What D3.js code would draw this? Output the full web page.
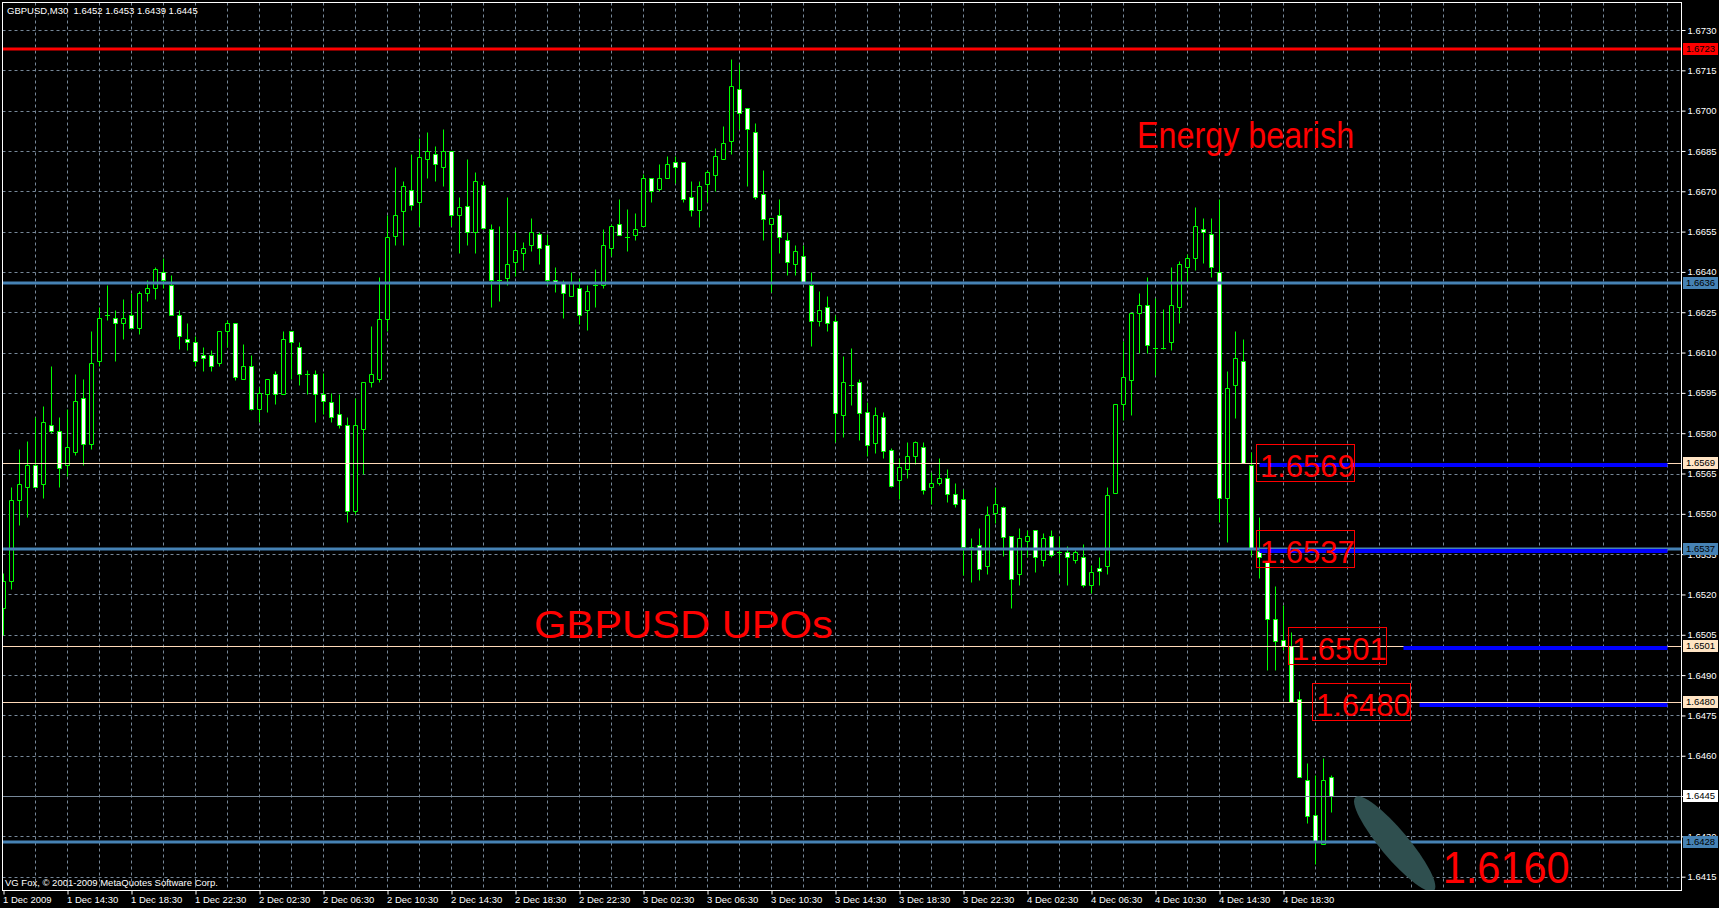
<!DOCTYPE html>
<html><head><meta charset="utf-8">
<script src="https://cdn.jsdelivr.net/npm/d3@7"></script>
<style>
html,body{margin:0;padding:0;background:#000;overflow:hidden}
svg{display:block}
</style></head><body>
<svg id="chart" width="1719" height="908"></svg>
<script>
const title = "GBPUSD,M30  1.6452 1.6453 1.6439 1.6445";
const copyright = "VG Fox, \u00A9 2001-2009 MetaQuotes Software Corp.";

const opens = [
1.6515,1.6525,1.6555,1.6560,1.6568,1.6561,1.6583,1.6581,1.6568,1.6573,
1.6593,1.6576,1.6607,1.6624,1.6623,1.6621,1.6624,1.6619,1.6632,1.6634,
1.6640,1.6635,1.6624,1.6615,1.6614,1.6609,1.6609,1.6606,1.6618,1.6621,
1.6600,1.6605,1.6589,1.65945,1.6602,1.65945,1.6618,1.6612,1.6602,1.6602,
1.65945,1.65915,1.6587,1.6583,1.6551,1.65815,1.6599,1.6600,1.66225,1.66534,
1.66628,1.66705,1.6666,1.6682,1.6684,1.6679,1.6685,1.6661,1.66647,1.6655,
1.66725,1.6656,1.6637,1.66376,1.66436,1.6647,1.6650,1.6654,1.6650,1.6637,
1.6636,1.6631,1.6634,1.6626,1.6635,1.6635,1.66488,1.66579,1.6653,1.66538,
1.6657,1.6675,1.6671,1.6675,1.6681,1.6681,1.6668,1.6663,1.66727,1.6676,
1.6682,1.66888,1.67079,1.6701,1.6692,1.6669,1.6658,1.6661,1.6652,1.66429,
1.6646,1.6635,1.66217,1.66268,1.66217,1.65866,1.65978,1.6599,1.65878,1.65764,
1.65859,1.65736,1.65626,1.65665,1.65717,1.65747,1.65598,1.65616,1.65635,1.65575,
1.65557,1.65369,1.65385,1.65307,1.65503,1.65526,1.65416,1.65278,1.65398,1.65439,
1.65327,1.65416,1.65357,1.65357,1.65327,1.65338,1.65237,1.65297,1.65307,1.65577,
1.65909,1.65999,1.66249,1.66278,1.66118,1.66118,1.6614,1.66271,1.6642,1.6645,
1.66558,1.6654,1.6640,1.6556,1.6598,1.6607,1.6568,1.6536,1.6532,1.6511,
1.6503,1.6501,1.6481,1.6451,1.6438,1.6427,1.6452];

const highs = [
1.6528,1.6560,1.6574,1.6577,1.6586,1.6590,1.6605,1.6586,1.6589,1.6602,
1.6600,1.6618,1.6627,1.6635,1.6626,1.6630,1.6632,1.6633,1.6637,1.6642,
1.6645,1.6639,1.6626,1.6621,1.6616,1.6612,1.6611,1.6618,1.6622,1.6621,
1.6613,1.6609,1.6597,1.6600,1.6603,1.6618,1.6618,1.6614,1.66035,1.66035,
1.66025,1.6595,1.65945,1.6586,1.6593,1.6599,1.6620,1.6638,1.6661,1.6679,
1.6674,1.6684,1.6690,1.6692,1.6687,1.6693,1.6685,1.6668,1.6682,1.6677,
1.6674,1.6658,1.6657,1.6668,1.6655,1.6651,1.6660,1.6655,1.6654,1.6642,
1.6637,1.6640,1.66378,1.66353,1.66409,1.6656,1.6658,1.6667,1.66633,1.6662,
1.66763,1.6675,1.6680,1.6683,1.6683,1.6681,1.6674,1.6674,1.6678,1.6686,
1.66942,1.67192,1.67174,1.6701,1.66953,1.6678,1.6660,1.6667,1.6655,1.6650,
1.6650,1.6640,1.6633,1.6631,1.6624,1.66088,1.66118,1.6600,1.65917,1.65898,
1.65878,1.65746,1.65706,1.65767,1.6577,1.65767,1.65656,1.65706,1.65666,1.65616,
1.65592,1.65409,1.65446,1.65528,1.65599,1.6553,1.65417,1.65446,1.6544,1.6544,
1.65428,1.6544,1.65416,1.6538,1.65365,1.65388,1.65309,1.65338,1.6560,1.6591,
1.66142,1.6625,1.66321,1.6638,1.66304,1.66261,1.6642,1.66441,1.66465,1.66642,
1.6660,1.6660,1.6667,1.6603,1.66182,1.6615,1.6573,1.6549,1.6532,1.6523,
1.6516,1.6506,1.6484,1.64572,1.64528,1.6459,1.6453];

const lows = [
1.6505,1.6522,1.6546,1.6549,1.6560,1.6556,1.6580,1.6560,1.6564,1.6572,
1.6568,1.6574,1.6605,1.6622,1.6607,1.6615,1.6619,1.6617,1.6629,1.6630,
1.6634,1.6624,1.66115,1.6611,1.6605,1.6603,1.6603,1.6605,1.6612,1.65997,
1.6600,1.65885,1.6584,1.6588,1.6591,1.65945,1.6600,1.6598,1.65945,1.6584,
1.6587,1.6584,1.6582,1.6547,1.6550,1.6565,1.6597,1.6599,1.6618,1.6650,
1.6650,1.6663,1.6657,1.6675,1.6674,1.6672,1.6657,1.6647,1.6650,1.6647,
1.6656,1.6627,1.6629,1.6635,1.66386,1.66406,1.66477,1.6643,1.6635,1.66327,
1.66227,1.6631,1.66207,1.66185,1.66268,1.6634,1.66458,1.6654,1.66477,1.6652,
1.6657,1.6666,1.6670,1.6675,1.6673,1.6666,1.66608,1.66567,1.6666,1.6670,
1.6682,1.6684,1.6693,1.6672,1.6667,1.6652,1.66324,1.6647,1.66388,1.66388,
1.6636,1.66125,1.66197,1.66179,1.65768,1.65787,1.65905,1.65774,1.65716,1.65727,
1.65706,1.65598,1.65555,1.65634,1.65685,1.65574,1.65537,1.65607,1.65544,1.65526,
1.65273,1.65246,1.65252,1.65277,1.65466,1.65344,1.6515,1.65235,1.6534,1.65285,
1.65307,1.6534,1.65281,1.65235,1.65316,1.65226,1.65207,1.65235,1.65278,1.65577,
1.65848,1.65867,1.66099,1.6610,1.66017,1.66112,1.66109,1.6621,1.6636,1.66408,
1.66435,1.6638,1.65468,1.65396,1.65857,1.6569,1.65347,1.6526,1.64918,1.6492,
1.64995,1.6480,1.6452,1.6435,1.64196,1.6427,1.6439];

const closes = [
1.6525,1.6555,1.6561,1.6568,1.6560,1.6584,1.6581,1.6567,1.6575,1.6592,
1.6576,1.6606,1.6623,1.6624,1.6621,1.6623,1.6619,1.6632,1.6634,1.6641,
1.6637,1.6624,1.6616,1.6614,1.6607,1.6608,1.6605,1.6618,1.6621,1.6601,
1.6605,1.6589,1.6595,1.6600,1.65945,1.6615,1.6614,1.6602,1.6602,1.65945,
1.6592,1.6586,1.6583,1.6551,1.6583,1.6599,1.6602,1.66225,1.6653,1.6661,
1.6672,1.6665,1.66826,1.6685,1.6680,1.6685,1.6661,1.6664,1.6655,1.6674,
1.66565,1.6637,1.6637,1.6643,1.6648,1.6649,1.6655,1.6649,1.6637,1.66359,
1.6632,1.6636,1.66238,1.6633,1.6635,1.6650,1.6657,1.66538,1.6653,1.6656,
1.6675,1.6670,1.6675,1.6680,1.66792,1.6667,1.6663,1.6672,1.6677,1.6683,
1.6688,1.6709,1.6699,1.6693,1.6668,1.66598,1.6660,1.6653,1.66437,1.66478,
1.66359,1.66217,1.66257,1.6621,1.65876,1.6599,1.65978,1.65876,1.65757,1.65866,
1.65735,1.65605,1.65676,1.65717,1.65766,1.65587,1.65616,1.65635,1.65575,1.65538,
1.65378,1.65378,1.65296,1.65497,1.65538,1.65415,1.65256,1.65409,1.65416,1.65338,
1.65409,1.65346,1.65357,1.65338,1.65357,1.65237,1.65285,1.65286,1.65569,1.65909,
1.6601,1.66249,1.66278,1.66129,1.66118,1.66118,1.66278,1.66431,1.6645,1.66569,
1.6655,1.66417,1.6556,1.65967,1.66078,1.6569,1.6537,1.6534,1.6511,1.65027,
1.6501,1.6480,1.6452,1.64377,1.64282,1.6451,1.6445];

const timeLabels = ["1 Dec 2009","1 Dec 14:30","1 Dec 18:30","1 Dec 22:30","2 Dec 02:30","2 Dec 06:30",
"2 Dec 10:30","2 Dec 14:30","2 Dec 18:30","2 Dec 22:30","3 Dec 02:30","3 Dec 06:30","3 Dec 10:30",
"3 Dec 14:30","3 Dec 18:30","3 Dec 22:30","4 Dec 02:30","4 Dec 06:30","4 Dec 10:30","4 Dec 14:30","4 Dec 18:30"];
const timeLabelIdx = [0,8,16,24,32,40,48,56,64,72,80,88,96,104,112,120,128,136,144,152,160];

const priceTicks = [1.6730,1.6715,1.6700,1.6685,1.6670,1.6655,1.6640,1.6625,1.6610,1.6595,1.6580,
1.6565,1.6550,1.6535,1.6520,1.6505,1.6490,1.6475,1.6460,1.6445,1.6430,1.6415];

const lineLevels = [1.6723,1.6636,1.6569,1.6537,1.6501,1.6480,1.6445,1.6428];
const lineKinds  = ["red","steel","peach","steel","peach","peach","bid","steel"];

const segLevels = [1.6568,1.6536,1.6500,1.6479];
const segStart  = [157,157,175,177];
const segEnd    = [208,208,208,208];

const boxTexts  = ["1.6569","1.6537","1.6501","1.6480"];
const boxIdx    = [156.6,156.6,160.6,163.6];
const boxLevels = [1.6569,1.6537,1.6501,1.6480];

const noteTexts = ["Energy bearish","GBPUSD UPOs","1.6160"];
const noteIdx   = [141.7,66.3,179.9];
const notePrice = [1.66861,1.65038,1.64127];

const ellipseIdx = 173.9, ellipsePrice = 1.64272;
</script>
<script>
const W=1719,H=908;
const plotL=2.5, plotR=1681.5, plotT=2.5, plotB=890.5;
const FONT = "'Liberation Sans', Arial, sans-serif";
const kindStyle = {
  red:{stroke:"#FF0000",w:3,bg:"#FF0000"},
  steel:{stroke:"#4682B4",w:3,bg:"#4682B4"},
  peach:{stroke:"#FFDAB9",w:1,bg:"#FFE4C4"},
  bid:{stroke:"#778899",w:1,bg:"#FFFFFF"}
};
const x = d3.scaleLinear().domain([0,1]).range([3.5,11.5]);
const y = d3.scaleLinear().domain([1.6415,1.6730]).range([876.7,30]);
const py = v => Math.round(y(v)) + 0.5;

const svg = d3.select("#chart");
svg.append("rect").attr("width",W).attr("height",H).attr("fill","#000");
svg.append("defs").append("clipPath").attr("id","plot").append("rect")
  .attr("x",plotL).attr("y",plotT).attr("width",plotR-plotL).attr("height",plotB-plotT);
const g = svg.append("g").attr("clip-path","url(#plot)");

// grid
const gridIdx = d3.range(4,210,4);
g.selectAll("line.vg").data(gridIdx).join("line").attr("class","vg")
  .attr("x1",d=>x(d)).attr("x2",d=>x(d)).attr("y1",plotT).attr("y2",plotB)
  .attr("stroke","#778899").attr("stroke-dasharray","3,3");
g.selectAll("line.hg").data(priceTicks).join("line").attr("class","hg")
  .attr("x1",plotL).attr("x2",plotR).attr("y1",d=>py(d)).attr("y2",d=>py(d))
  .attr("stroke","#778899").attr("stroke-dasharray","3,3");

// candles
const candles = opens.map((o,i)=>({i,o,h:highs[i],l:lows[i],c:closes[i]}));
const cg = g.append("g");
cg.selectAll("line.wick").data(candles).join("line").attr("class","wick")
  .attr("x1",d=>x(d.i)).attr("x2",d=>x(d.i))
  .attr("y1",d=>py(d.h)).attr("y2",d=>py(d.l))
  .attr("stroke","#00FF00").attr("stroke-width",1);
const bodies = candles.filter(d=>Math.abs(py(d.o)-py(d.c))>=1);
const dojis = candles.filter(d=>Math.abs(py(d.o)-py(d.c))<1);
cg.selectAll("path.body").data(bodies).join("path").attr("class","body")
  .attr("d",d=>{
    const x0=x(d.i)-2, x1=x(d.i)+2;
    const a=Math.min(py(d.o),py(d.c)), b=Math.max(py(d.o),py(d.c));
    return `M${x0},${a}H${x1}V${b}H${x0}Z`;
  })
  .attr("fill",d=>d.c<d.o?"#FFFFFF":"#000000")
  .attr("stroke","#00FF00").attr("stroke-width",1);
cg.selectAll("line.doji").data(dojis).join("line").attr("class","doji")
  .attr("x1",d=>x(d.i)-2).attr("x2",d=>x(d.i)+2)
  .attr("y1",d=>py(d.o)).attr("y2",d=>py(d.o))
  .attr("stroke","#00FF00").attr("stroke-linecap","square");

// horizontal lines
const lines = lineLevels.map((v,i)=>({v,k:lineKinds[i]}));
g.selectAll("line.hl").data(lines).join("line").attr("class","hl")
  .attr("x1",plotL).attr("x2",plotR)
  .attr("y1",d=>kindStyle[d.k].w===1?py(d.v):Math.round(y(d.v)))
  .attr("y2",d=>kindStyle[d.k].w===1?py(d.v):Math.round(y(d.v)))
  .attr("stroke",d=>kindStyle[d.k].stroke).attr("stroke-width",d=>kindStyle[d.k].w);

// blue segments
const segs = segLevels.map((v,i)=>({v,a:segStart[i],b:segEnd[i]}));
g.selectAll("line.seg").data(segs).join("line").attr("class","seg")
  .attr("x1",d=>x(d.a)).attr("x2",d=>x(d.b))
  .attr("y1",d=>Math.round(y(d.v))).attr("y2",d=>Math.round(y(d.v)))
  .attr("stroke","#0000FF").attr("stroke-width",4);

// boxed labels
const boxes = boxTexts.map((t,i)=>({t,i:boxIdx[i],v:boxLevels[i]}));
const bg = g.selectAll("g.box").data(boxes).join("g").attr("class","box");
bg.append("rect")
  .attr("x",d=>Math.round(x(d.i))+0.5).attr("y",d=>Math.round(y(d.v))-18.5)
  .attr("width",98).attr("height",37)
  .attr("fill","none").attr("stroke","#FF0000");
bg.append("text")
  .attr("x",d=>Math.round(x(d.i))+4).attr("y",d=>Math.round(y(d.v))+14)
  .attr("fill","#FF0000").attr("font-family",FONT).attr("font-size",31)
  .text(d=>d.t);

// notes
const notes = noteTexts.map((t,i)=>({t,i:noteIdx[i],v:notePrice[i]}));
const noteSize = [36,38,44];
const noteLen = [217,299,127];
g.selectAll("text.note").data(notes).join("text").attr("class","note")
  .attr("x",d=>x(d.i)).attr("y",d=>y(d.v))
  .attr("fill","#FF0000").attr("font-family",FONT)
  .attr("font-size",(d,i)=>noteSize[i])
  .attr("textLength",(d,i)=>noteLen[i]).attr("lengthAdjust","spacingAndGlyphs")
  .text(d=>d.t);

// ellipse
g.append("ellipse")
  .attr("cx",0).attr("cy",0).attr("rx",61).attr("ry",14)
  .attr("transform",`translate(${x(ellipseIdx)},${y(ellipsePrice)}) rotate(50)`)
  .attr("fill","#2F4F4F");

// title & copyright
svg.append("text").attr("x",7).attr("y",14).attr("fill","#fff")
  .attr("font-family",FONT).attr("font-size",9.5)
  .style("white-space","pre").text(title);
svg.append("text").attr("x",5).attr("y",886).attr("fill","#fff")
  .attr("font-family",FONT).attr("font-size",9.5).text(copyright);

// border
svg.append("rect").attr("x",plotL).attr("y",plotT)
  .attr("width",plotR-plotL).attr("height",plotB-plotT)
  .attr("fill","none").attr("stroke","#fff");

// right axis
const yAxis = d3.axisRight(y).tickValues(priceTicks).tickFormat(d3.format(".4f"))
  .tickSize(4).tickPadding(2).tickSizeOuter(0);
const ya = svg.append("g").attr("transform",`translate(${plotR},0)`).call(yAxis);
ya.select(".domain").remove();
ya.selectAll(".tick line").attr("stroke","#fff");
ya.selectAll(".tick text").attr("fill","#fff").attr("font-family",FONT).attr("font-size",9.5);

// bottom axis
const xAxis = d3.axisBottom(x).tickValues(timeLabelIdx).tickFormat((d,i)=>timeLabels[i])
  .tickSize(4).tickPadding(2).tickSizeOuter(0);
const xa = svg.append("g").attr("transform",`translate(0,${plotB})`).call(xAxis);
xa.select(".domain").remove();
xa.selectAll(".tick line").attr("stroke","#fff");
xa.selectAll(".tick text").attr("fill","#fff").attr("font-family",FONT).attr("font-size",9.5)
  .attr("text-anchor","start").attr("x",-1);

// price labels of lines
const pl = svg.selectAll("g.plab").data(lines).join("g").attr("class","plab")
  .attr("transform",d=>`translate(1683,${Math.round(y(d.v))})`);
pl.append("rect").attr("x",0).attr("y",-6).attr("width",35).attr("height",12)
  .attr("fill",d=>kindStyle[d.k].bg);
pl.append("text").attr("x",3).attr("y",0).attr("dy","0.35em")
  .attr("fill","#000").attr("font-family",FONT).attr("font-size",9.5)
  .text(d=>d3.format(".4f")(d.v));
</script>
</body></html>
